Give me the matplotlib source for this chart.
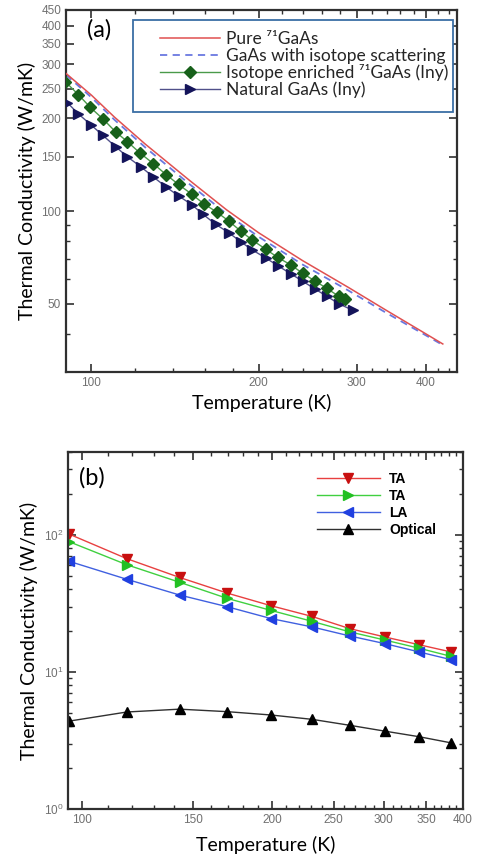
import numpy as np
import matplotlib
matplotlib.use('Agg')
import matplotlib.pyplot as plt
from matplotlib.patches import Rectangle
from matplotlib.ticker import FixedLocator, NullFormatter, LogLocator, LogFormatterSciNotation

# ---- panel (a) data ----
t_pure = [90, 100, 110, 125, 150, 175, 200, 240, 290, 340, 390, 429]
k_pure = [280, 238, 202, 165, 126, 101, 85, 69, 56.5, 47.5, 41, 37]
k_iso = [277, 234, 198, 161, 122.5, 98, 82.5, 67, 55.2, 46.6, 40.5, 36.7]

t_enr = [89.8, 94.7, 99.6, 105.1, 110.5, 116.1, 122.5, 129.3, 136.5, 143.5, 151.5, 159.2,
         168.0, 176.6, 185.5, 194.9, 205.9, 216.4, 228.6, 240.3, 252.4, 265.2, 278.6, 285.8]
k_enr = [263, 239, 217, 198.5, 181, 168, 154, 142.5, 131, 122, 113.5, 105.7,
         99.3, 92.9, 86.2, 80.4, 75.2, 70.7, 66.8, 62.7, 59.3, 56.1, 52.9, 51.7]

t_nat = [90.5, 94.7, 100.0, 104.9, 110.5, 116.1, 122.9, 129.3, 136.5, 143.5, 151.5, 158.8,
         167.3, 176.6, 185.5, 194.9, 206.0, 216.4, 228.6, 240.3, 253.0, 265.7, 278.6, 295.5]
k_nat = [225, 207, 190, 176, 162, 150, 139, 129, 119.5, 112, 105, 97.6,
         90.6, 85.1, 79.6, 74.7, 70.4, 66.5, 62.5, 59.1, 55.7, 52.8, 50, 47.6]

ya_ticks = [50, 100, 150, 200, 250, 300, 350, 400, 450]
ya_minor = [40, 60, 70, 80, 90]
xa_ticks = [100, 200, 300, 400]
xa_minor = [120, 140, 160, 180, 220, 240, 260, 280, 320, 340, 360, 380, 420, 440]

# ---- panel (b) data ----
t_b = [95.5, 117.7, 142.6, 169.6, 199, 231, 265, 301, 341, 383]
k_ta1 = [101, 67, 48.9, 37.6, 30.4, 25.4, 20.7, 18.0, 15.8, 14.0]
k_ta2 = [88.9, 60.5, 45.1, 34.4, 28.1, 23.4, 19.6, 17.1, 14.9, 13.0]
k_la = [64, 47.4, 36.4, 29.9, 24.5, 21.3, 18.3, 16.1, 14.0, 12.3]
k_opt = [4.38, 5.1, 5.35, 5.13, 4.85, 4.51, 4.08, 3.70, 3.37, 3.04]

xb_ticks = [100, 150, 200, 250, 300, 350, 400]
xb_minor = [110, 120, 130, 140, 160, 170, 180, 190, 210, 220, 230, 240, 260, 270, 280, 290,
            310, 320, 330, 340, 360, 370, 380, 390]

W, H = 479, 861
fig = plt.figure(figsize=(W / 100, H / 100), dpi=100)

tick_col = '#707070'
spine_col = '#303030'
label_font = 'Lato'
tick_font = 'Liberation Sans'


def style_axes(ax):
    for s in ax.spines.values():
        s.set_linewidth(1.6)
        s.set_color(spine_col)
    ax.tick_params(which='both', direction='in', top=True, right=True, color=spine_col,
                   labelcolor=tick_col, labelsize=8.5)
    ax.tick_params(which='major', length=6, width=1.2)
    ax.tick_params(which='minor', length=3, width=1.0)
    for lab in ax.get_xticklabels() + ax.get_yticklabels():
        lab.set_fontfamily(tick_font)


# ---------- (a) ----------
ax1 = fig.add_axes([66 / W, 1 - 372 / H, (457 - 66) / W, (372 - 10) / H])
ax1.set_xscale('log')
ax1.set_yscale('log')
ax1.plot(t_pure, k_pure, color='#e05050', lw=1.1, label='Pure \u2077\u00b9GaAs', zorder=3)
ax1.plot(t_pure, k_iso, color='#6a78e0', lw=1.3, ls=(0, (4, 3)),
         label='GaAs with isotope scattering', zorder=2)
ax1.plot(t_enr, k_enr, color='#4a9a4a', lw=1.0, marker='D', ms=6.5, mfc='#17601a',
         mec='#17601a', label='Isotope enriched \u2077\u00b9GaAs (Iny)', zorder=4)
ax1.plot(t_nat, k_nat, color='#50508a', lw=1.0, marker='>', ms=7.5, mfc='#14145a',
         mec='#14145a', label='Natural GaAs (Iny)', zorder=3)
ax1.set_xlim(90, 455)
ax1.set_ylim(30, 450)
ax1.xaxis.set_major_locator(FixedLocator(xa_ticks))
ax1.xaxis.set_minor_locator(FixedLocator(xa_minor))
ax1.set_xticklabels([str(v) for v in xa_ticks])
ax1.xaxis.set_minor_formatter(NullFormatter())
ax1.yaxis.set_major_locator(FixedLocator(ya_ticks))
ax1.yaxis.set_minor_locator(FixedLocator(ya_minor))
ax1.set_yticklabels([str(v) for v in ya_ticks])
ax1.yaxis.set_minor_formatter(NullFormatter())
style_axes(ax1)
ax1.set_xlabel('Temperature (K)', fontsize=14, fontfamily=label_font, labelpad=4)
ax1.set_ylabel('Thermal Conductivity (W/mK)', fontsize=14, fontfamily=label_font, labelpad=4)
ax1.text(0.054, 0.975, '(a)', transform=ax1.transAxes, fontsize=17, fontfamily=label_font,
         va='top', ha='left')
# legend box drawn on its own, entries placed inside it
ax1.add_patch(Rectangle((0.1714, 0.7182), 0.8184, 0.2542, transform=ax1.transAxes,
                        facecolor='white', edgecolor='#3a6ea5', lw=1.3, zorder=5))
leg = ax1.legend(loc='upper left', bbox_to_anchor=(0.240, 0.941), frameon=False,
                 borderaxespad=0, borderpad=0, handlelength=3.45, handletextpad=0.35,
                 labelspacing=0.03, prop={'family': [label_font, 'DejaVu Sans'], 'size': 12.5})
leg.set_zorder(6)
for txt in leg.get_texts():
    txt.set_color('#252525')

# ---------- (b) ----------
ax2 = fig.add_axes([68 / W, 1 - 809 / H, (462.7 - 68) / W, (809 - 452.3) / H])
ax2.set_xscale('log')
ax2.set_yscale('log')
ax2.plot(t_b, k_ta1, color='#e84040', lw=1.0, marker='v', ms=7.5, mfc='#c81010',
         mec='#c81010', label='TA')
ax2.plot(t_b, k_ta2, color='#40d040', lw=1.0, marker='>', ms=7.5, mfc='#22c022',
         mec='#22c022', label='TA')
ax2.plot(t_b, k_la, color='#4060e0', lw=1.0, marker='<', ms=7.5, mfc='#2040e0',
         mec='#2040e0', label='LA')
ax2.plot(t_b, k_opt, color='#303030', lw=1.0, marker='^', ms=7.5, mfc='black',
         mec='black', label='Optical')
ax2.set_xlim(95, 400)
ax2.set_ylim(1, 400)
ax2.xaxis.set_major_locator(FixedLocator(xb_ticks))
ax2.xaxis.set_minor_locator(FixedLocator(xb_minor))
ax2.set_xticklabels([str(v) for v in xb_ticks])
ax2.xaxis.set_minor_formatter(NullFormatter())
ax2.yaxis.set_major_locator(LogLocator(base=10, numticks=10))
ax2.yaxis.set_minor_locator(LogLocator(base=10, subs=np.arange(2, 10), numticks=10))
ax2.yaxis.set_major_formatter(LogFormatterSciNotation())
ax2.yaxis.set_minor_formatter(NullFormatter())
style_axes(ax2)
ax2.set_xlabel('Temperature (K)', fontsize=14, fontfamily=label_font, labelpad=7)
ax2.set_ylabel('Thermal Conductivity (W/mK)', fontsize=14, fontfamily=label_font, labelpad=4)
ax2.text(0.028, 0.96, '(b)', transform=ax2.transAxes, fontsize=17, fontfamily=label_font,
         va='top', ha='left')
ax2.legend(loc='upper left', bbox_to_anchor=(0.631, 0.945), frameon=False, handlelength=4.5,
           handletextpad=0.7, labelspacing=0.22, borderaxespad=0, borderpad=0,
           prop={'family': 'Liberation Sans', 'size': 10, 'weight': 'bold'})

fig.savefig('out.png', dpi=100)
